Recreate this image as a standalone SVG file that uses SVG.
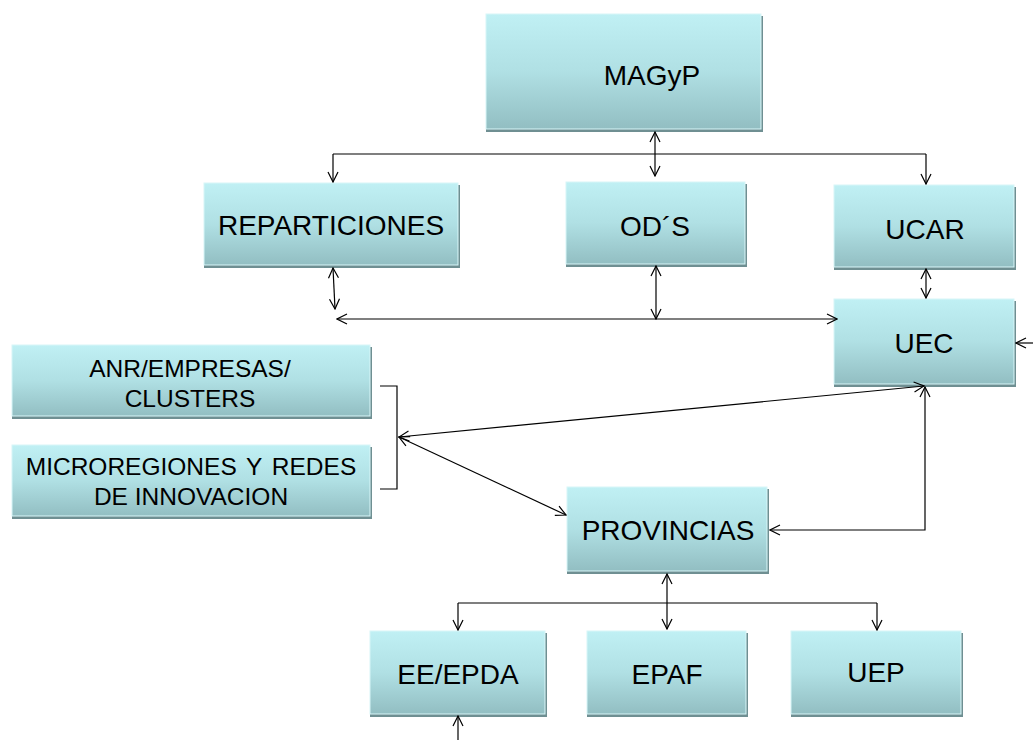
<svg xmlns="http://www.w3.org/2000/svg" width="1033" height="740" viewBox="0 0 1033 740">
<defs>
<linearGradient id="g" x1="0" y1="0" x2="0" y2="1">
<stop offset="0" stop-color="#c0f0f4"/>
<stop offset="0.5" stop-color="#b0e0e4"/>
<stop offset="1" stop-color="#92bec2"/>
</linearGradient>
<marker id="a" viewBox="0 0 12 12" refX="11" refY="6" markerWidth="12" markerHeight="12" markerUnits="userSpaceOnUse" orient="auto-start-reverse">
<path d="M1,1 L11,6 L1,11" fill="none" stroke="#000" stroke-width="1.2"/>
</marker>
<style>
.sh{fill:#6f8f92}
.bx{fill:url(#g);stroke:#d8f6f8;stroke-width:1}
.t{font-family:"Liberation Sans",Arial,sans-serif;font-size:28px;fill:#000;text-anchor:middle}
.s{font-family:"Liberation Sans",Arial,sans-serif;font-size:24.5px;fill:#000;text-anchor:middle}
.c{fill:none;stroke:#000;stroke-width:1.2}
</style>
</defs>
<rect width="1033" height="740" fill="#fff"/>
<g id="MAGyP"><rect class="sh" x="486" y="16" width="277" height="116"/><rect class="bx" x="486" y="14" width="275" height="115"/><text class="t" x="652" y="85">MAGyP</text></g>
<g id="REPARTICIONES"><rect class="sh" x="204" y="185" width="256" height="83"/><rect class="bx" x="204" y="183" width="254" height="82"/><text class="t" x="331" y="235">REPARTICIONES</text></g>
<g id="ODS"><rect class="sh" x="566" y="184" width="181" height="83"/><rect class="bx" x="566" y="182" width="179" height="82"/><text class="t" x="655" y="236">OD´S</text></g>
<g id="UCAR"><rect class="sh" x="834" y="187" width="182" height="83"/><rect class="bx" x="834" y="185" width="180" height="82"/><text class="t" x="925" y="239">UCAR</text></g>
<g id="UEC"><rect class="sh" x="834" y="301" width="182" height="86"/><rect class="bx" x="834" y="299" width="180" height="85"/><text class="t" x="924" y="353">UEC</text></g>
<g id="ANR"><rect class="sh" x="12" y="347" width="360" height="72"/><rect class="bx" x="12" y="345" width="358" height="71"/><text class="s" x="190" y="377">ANR/EMPRESAS/</text><text class="s" x="190" y="407">CLUSTERS</text></g>
<g id="MICRO"><rect class="sh" x="12" y="447" width="360" height="72"/><rect class="bx" x="12" y="445" width="358" height="71"/><text class="s" x="191" y="475" word-spacing="3">MICROREGIONES Y REDES</text><text class="s" x="191" y="505">DE INNOVACION</text></g>
<g id="PROVINCIAS"><rect class="sh" x="567" y="489" width="202" height="85"/><rect class="bx" x="567" y="487" width="200" height="84"/><text class="t" x="668" y="540">PROVINCIAS</text></g>
<g id="EEEPDA"><rect class="sh" x="370" y="633" width="177" height="84"/><rect class="bx" x="370" y="631" width="175" height="83"/><text class="t" x="458" y="684">EE/EPDA</text></g>
<g id="EPAF"><rect class="sh" x="587" y="633" width="161" height="84"/><rect class="bx" x="587" y="631" width="159" height="83"/><text class="t" x="667" y="684">EPAF</text></g>
<g id="UEP"><rect class="sh" x="791" y="633" width="172" height="84"/><rect class="bx" x="791" y="631" width="170" height="83"/><text class="t" x="876" y="682">UEP</text></g>
<g id="connectors">
<path class="c" d="M333,154 H926"/>
<path class="c" d="M333,154 V182" marker-end="url(#a)"/>
<path class="c" d="M926,154 V184" marker-end="url(#a)"/>
<path class="c" d="M655,132 V176" marker-start="url(#a)" marker-end="url(#a)"/>
<path class="c" d="M333,268 L335,309" marker-start="url(#a)" marker-end="url(#a)"/>
<path class="c" d="M656,266 V319" marker-start="url(#a)" marker-end="url(#a)"/>
<path class="c" d="M337,319 H837" marker-start="url(#a)" marker-end="url(#a)"/>
<path class="c" d="M926,269 V298" marker-start="url(#a)" marker-end="url(#a)"/>
<path class="c" d="M1033,343 H1016" marker-end="url(#a)"/>
<path class="c" d="M380,386 H397 V489 H380"/>
<path class="c" d="M399,437 L924,386" marker-start="url(#a)" marker-end="url(#a)"/>
<path class="c" d="M399,437 L566,515" marker-start="url(#a)" marker-end="url(#a)"/>
<path class="c" d="M925,387 V530 H770" marker-start="url(#a)" marker-end="url(#a)"/>
<path class="c" d="M667,574 V629" marker-start="url(#a)" marker-end="url(#a)"/>
<path class="c" d="M458,603 H877"/>
<path class="c" d="M458,603 V630" marker-end="url(#a)"/>
<path class="c" d="M877,603 V630" marker-end="url(#a)"/>
<path class="c" d="M458,740 V716" marker-end="url(#a)"/>
</g>
</svg>
